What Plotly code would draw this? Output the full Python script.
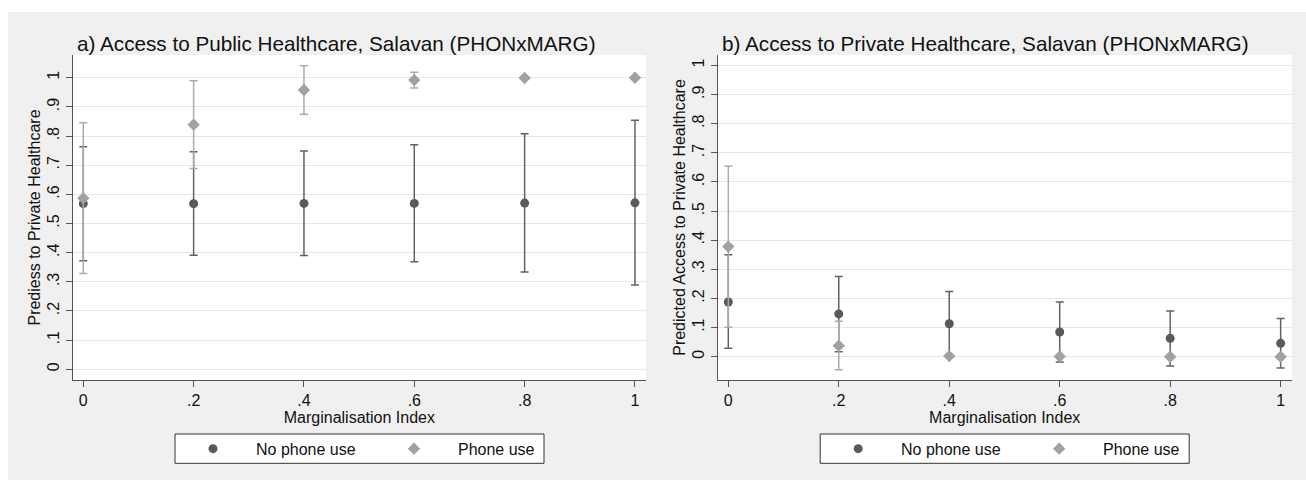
import plotly.graph_objects as go

# Marginalisation index values at which predictions were evaluated
marg_index = [0.0, 0.2, 0.4, 0.6, 0.8, 1.0]
x_tick_labels = ["0", ".2", ".4", ".6", ".8", "1"]
y_tick_values = [0, 0.1, 0.2, 0.3, 0.4, 0.5, 0.6, 0.7, 0.8, 0.9, 1.0]
y_tick_labels = ["0", ".1", ".2", ".3", ".4", ".5", ".6", ".7", ".8", ".9", "1"]

# Panel a) public healthcare: predicted probabilities and 95% CI bounds
pub_nophone = [0.568, 0.568, 0.569, 0.569, 0.570, 0.571]
pub_nophone_lo = [0.372, 0.391, 0.390, 0.369, 0.334, 0.289]
pub_nophone_hi = [0.763, 0.746, 0.749, 0.770, 0.808, 0.854]
pub_phone = [0.587, 0.839, 0.958, 0.992, 0.999, 1.000]
pub_phone_lo = [0.329, 0.689, 0.875, 0.965, 0.999, 1.000]
pub_phone_hi = [0.846, 0.990, 1.041, 1.019, 0.999, 1.000]

# Panel b) private healthcare
prv_nophone = [0.188, 0.147, 0.113, 0.085, 0.063, 0.046]
prv_nophone_lo = [0.029, 0.017, 0.002, -0.018, -0.032, -0.039]
prv_nophone_hi = [0.350, 0.275, 0.224, 0.188, 0.157, 0.131]
prv_phone = [0.378, 0.038, 0.002, 0.001, 0.000, 0.000]
prv_phone_lo = [0.101, -0.045, 0.002, 0.001, 0.000, 0.000]
prv_phone_hi = [0.654, 0.122, 0.002, 0.001, 0.000, 0.000]

series_names = ["No phone use", "Phone use"]
panel_titles = [
    "a) Access to Public Healthcare, Salavan (PHONxMARG)",
    "b) Access to Private Healthcare, Salavan (PHONxMARG)",
]
y_titles = ["Prediess to Private Healthcare", "Predicted Access to Private Healthcare"]
x_title = "Marginalisation Index"

W, H = 1306, 480
FONT = "Liberation Sans, Arial, sans-serif"
DARK, DARK_BAR = "#5a5a5a", "#626262"
LIGHT, LIGHT_BAR = "#a1a1a1", "#ababab"
GRID = "#e6e6e6"
AXIS = "#555555"
BG = "#f0f0f0"


def px_x(v):
    return v / W


def px_y(v):
    return 1 - v / H


# plot areas in pixels (left, right, top, bottom)
areas = [(72.7, 646.0, 55.0, 380.0), (717.7, 1291.7, 55.0, 380.0)]
y_ranges = [[-0.0367, 1.078], [-0.080, 1.036]]

fig = go.Figure()


def add_panel(idx, est_a, lo_a, hi_a, est_b, lo_b, hi_b):
    xa = "x" if idx == 0 else "x2"
    ya = "y" if idx == 0 else "y2"
    for est, lo, hi, name, mcol, bcol, sym, size in [
        (est_a, lo_a, hi_a, series_names[0], DARK, DARK_BAR, "circle", 9),
        (est_b, lo_b, hi_b, series_names[1], LIGHT, LIGHT_BAR, "diamond", 9.5),
    ]:
        fig.add_trace(go.Scatter(
            x=marg_index, y=est, mode="markers", name=name,
            marker=dict(symbol=sym, size=size, color=mcol, line=dict(width=0)),
            error_y=dict(type="data", symmetric=False,
                         array=[h - e for h, e in zip(hi, est)],
                         arrayminus=[e - l for e, l in zip(est, lo)],
                         color=bcol, thickness=1.5, width=4),
            xaxis=xa, yaxis=ya, showlegend=False, cliponaxis=False,
        ))


add_panel(0, pub_nophone, pub_nophone_lo, pub_nophone_hi, pub_phone, pub_phone_lo, pub_phone_hi)
add_panel(1, prv_nophone, prv_nophone_lo, prv_nophone_hi, prv_phone, prv_phone_lo, prv_phone_hi)

axis_common = dict(
    showline=True, linecolor=AXIS, linewidth=1, mirror=False,
    ticks="outside", ticklen=6, tickwidth=1, tickcolor=AXIS,
    tickfont=dict(family=FONT, size=16, color="#111111"),
)

layout = dict(
    width=W, height=H,
    margin=dict(l=0, r=0, t=0, b=0),
    paper_bgcolor="white", plot_bgcolor="white",
    font=dict(family=FONT, size=16, color="#111111"),
    showlegend=False,
)

for i, (l, r, t, b) in enumerate(areas):
    sx = "" if i == 0 else "2"
    layout["xaxis" + sx] = dict(
        axis_common, domain=[px_x(l), px_x(r)], range=[-0.0192, 1.02],
        tickvals=marg_index, ticktext=x_tick_labels, showgrid=False, zeroline=False,
        anchor="y" + sx,
        title=dict(text=x_title, font=dict(family=FONT, size=16, color="#111111"), standoff=2),
    )
    layout["yaxis" + sx] = dict(
        axis_common, domain=[px_y(b), px_y(t)], range=y_ranges[i],
        tickvals=y_tick_values, ticktext=y_tick_labels, tickangle=-90,
        showgrid=True, gridcolor=GRID, gridwidth=1.3,
        zeroline=True, zerolinecolor=GRID, zerolinewidth=1.3,
        anchor="x" + sx,
        title=dict(text=y_titles[i], font=dict(family=FONT, size=16, color="#111111"), standoff=0),
    )

# legend key axes (hidden), one per panel
legend_boxes = [(175.0, 544.0), (820.2, 1189.2)]
legend_top, legend_bot = 434.0, 463.3
for i, (lx0, lx1) in enumerate(legend_boxes):
    n = str(3 + i)
    layout["xaxis" + n] = dict(domain=[px_x(lx0), px_x(lx1)], range=[0, 1], visible=False,
                               anchor="y" + n, fixedrange=True)
    layout["yaxis" + n] = dict(domain=[px_y(legend_bot), px_y(legend_top)], range=[0, 1],
                               visible=False, anchor="x" + n, fixedrange=True)

fig.update_layout(**layout)

shapes = [dict(type="rect", xref="paper", yref="paper", x0=px_x(8), x1=1, y0=0, y1=px_y(12),
               fillcolor=BG, line=dict(width=0), layer="below")]
for (l, r, t, b) in areas:
    shapes.append(dict(type="rect", xref="paper", yref="paper", x0=px_x(l), x1=px_x(r),
                       y0=px_y(b), y1=px_y(t), fillcolor="white", line=dict(width=0), layer="below"))

annotations = []
for i, (l, r, t, b) in enumerate(areas):
    annotations.append(dict(text=panel_titles[i], xref="paper", yref="paper",
                            x=px_x(l + 2), y=px_y(43), xanchor="left", yanchor="middle",
                            showarrow=False, font=dict(family=FONT, size=20.7, color="#111111")))

for i, (lx0, lx1) in enumerate(legend_boxes):
    n = str(3 + i)
    shapes.append(dict(type="rect", xref="paper", yref="paper", x0=px_x(lx0), x1=px_x(lx1),
                       y0=px_y(legend_bot), y1=px_y(legend_top), fillcolor="white",
                       line=dict(color="#333333", width=1), layer="below"))
    span = lx1 - lx0
    key_pos = [38.0 / span, 239.0 / span]
    text_pos = [79.0, 281.0]
    fig.add_trace(go.Scatter(x=[key_pos[0]], y=[0.5], mode="markers", showlegend=False,
                             marker=dict(symbol="circle", size=9, color=DARK),
                             xaxis="x" + n, yaxis="y" + n, hoverinfo="skip"))
    fig.add_trace(go.Scatter(x=[key_pos[1]], y=[0.5], mode="markers", showlegend=False,
                             marker=dict(symbol="diamond", size=9.5, color=LIGHT),
                             xaxis="x" + n, yaxis="y" + n, hoverinfo="skip"))
    for k in range(2):
        annotations.append(dict(text=series_names[k], xref="paper", yref="paper",
                                x=px_x(lx0 + text_pos[k]), y=px_y(449.5),
                                xanchor="left", yanchor="middle", showarrow=False,
                                font=dict(family=FONT, size=16, color="#111111")))

fig.update_layout(shapes=shapes, annotations=annotations)
fig.write_html("out.html")
